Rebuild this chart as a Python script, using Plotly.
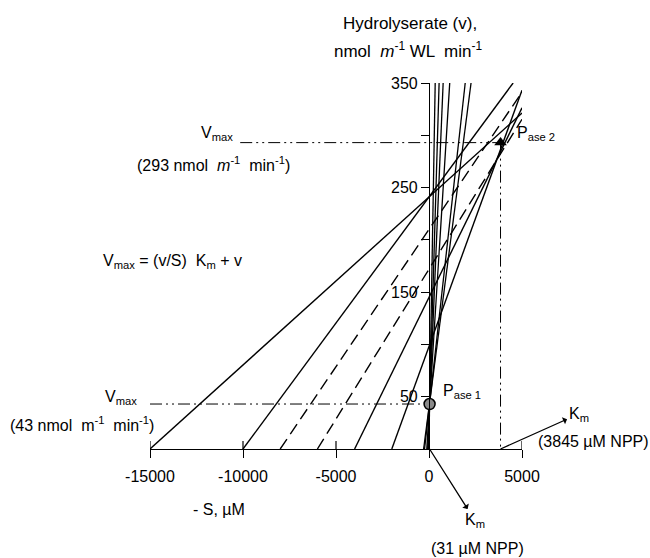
import plotly.graph_objects as go

# Direct linear plot (Eisenthal & Cornish-Bowden): each observation (S, v)
# is drawn as a line through (-S, 0) and (0, v), extended to the frame.

# Phosphatase 2 observations (substrate, µM; rate, nmol m-1 WL min-1)
pase2_S = [15000, 10000, 8000, 6000, 4000, 2000]
pase2_v = [241, 241, 210, 172, 145, 98]
pase2_dash = ["solid", "solid", "dash", "dash", "solid", "solid"]

# Phosphatase 1 observations
pase1_S = [10, 40, 70, 120, 240, 290]
pase1_v = [10.2, 24, 29.5, 34, 38.4, 39.8]

# Kinetic constants from the median intersections
pase1_Km, pase1_Vmax = 31, 43
pase2_Km, pase2_Vmax = 3845, 293

x_ticks = [-15000, -10000, -5000, 0, 5000]
y_ticks = [50, 100, 150, 200, 250, 300, 350]
y_ticklabels = ["50", "", "150", "", "250", "", "350"]

X_MIN, X_MAX = -15000, 5000
Y_MIN, Y_MAX = 0, 350

FONT = "Liberation Sans, Arial, sans-serif"
DASHDOT = "12px,4px,2px,4px,2px,4px"


def line_end(S, v):
    """Point where the line through (-S, 0) and (0, v) leaves the frame."""
    slope = v / S
    x_top = (Y_MAX - 0) / slope - S
    if x_top <= X_MAX:
        return x_top, Y_MAX
    return X_MAX, v + slope * X_MAX


def paper(x, y):
    """Data-space position expressed in paper units (may lie outside the frame)."""
    return (x - X_MIN) / (X_MAX - X_MIN), (y - Y_MIN) / (Y_MAX - Y_MIN)


fig = go.Figure()

for S, v, dash in zip(pase2_S, pase2_v, pase2_dash):
    xe, ye = line_end(S, v)
    fig.add_trace(go.Scatter(
        x=[-S, xe], y=[0, ye], mode="lines",
        line=dict(color="black", width=1.4,
                  dash="12px,6px" if dash == "dash" else "solid"),
        hoverinfo="skip"))

for S, v in zip(pase1_S, pase1_v):
    xe, ye = line_end(S, v)
    fig.add_trace(go.Scatter(
        x=[-S, xe], y=[0, ye], mode="lines",
        line=dict(color="black", width=1.3), hoverinfo="skip"))

# Vmax / Km guide lines (dash-dot)
vmax2_label_x = -10150
fig.add_trace(go.Scatter(x=[vmax2_label_x, pase2_Km], y=[pase2_Vmax, pase2_Vmax],
                         mode="lines", line=dict(color="black", width=1, dash=DASHDOT),
                         hoverinfo="skip"))
fig.add_trace(go.Scatter(x=[pase2_Km, pase2_Km], y=[pase2_Vmax, 0],
                         mode="lines", line=dict(color="black", width=1, dash=DASHDOT),
                         hoverinfo="skip"))
fig.add_trace(go.Scatter(x=[X_MIN, pase1_Km], y=[pase1_Vmax, pase1_Vmax],
                         mode="lines", line=dict(color="black", width=1, dash=DASHDOT),
                         hoverinfo="skip"))

# Intersection markers
fig.add_trace(go.Scatter(x=[pase2_Km], y=[pase2_Vmax], mode="markers",
                         marker=dict(symbol="triangle-up", size=11, color="black"),
                         hoverinfo="skip"))
fig.add_trace(go.Scatter(x=[pase1_Km], y=[pase1_Vmax], mode="markers",
                         marker=dict(symbol="circle", size=11, color="#8a8a8a",
                                     line=dict(color="black", width=1.5)),
                         hoverinfo="skip"))

# x tick marks cross the axis: upper halves as pixel-sized shapes
shapes = []
for xt in x_ticks:
    shapes.append(dict(type="line", xref="x", yref="y", ysizemode="pixel",
                       yanchor=0, x0=xt, x1=xt, y0=0, y1=8,
                       line=dict(color="black", width=1.2)))

ann_font = dict(family=FONT, size=16, color="black")
title_font = dict(family=FONT, size=17, color="black")

# free-standing labels, positioned in data space and converted to paper units
labels = [
    (-1000, 407, "Hydrolyserate (v),", "center", title_font),
    (-1150, 382, "nmol  <i>m</i><sup>-1</sup> WL  min<sup>-1</sup>", "center", title_font),
    (-10450, 302, "V<sub>max</sub>", "right", ann_font),
    (-11600, 273, "(293 nmol  <i>m</i><sup>-1</sup>  min<sup>-1</sup>)", "center", ann_font),
    (-13800, 179, "V<sub>max</sub> = (v/S)  K<sub>m</sub> + v", "center", ann_font),
    (-15600, 49, "V<sub>max</sub>", "right", ann_font),
    (-18650, 24, "(43 nmol  m<sup>-1</sup>  min<sup>-1</sup>)", "center", ann_font),
    (650, 55, "P<sub>ase 1</sub>", "left", ann_font),
    (4600, 302, "P<sub>ase 2</sub>", "left", ann_font),
    (8870, 7, "(3845 µM NPP)", "center", ann_font),
    (-11300, -58, "- S, µM", "center", ann_font),
    (2630, -95, "(31 µM NPP)", "center", ann_font),
]
annotations = []
for x, y, text, xanchor, font in labels:
    px, py = paper(x, y)
    annotations.append(dict(x=px, y=py, xref="paper", yref="paper", text=text,
                            xanchor=xanchor, yanchor="middle", showarrow=False,
                            font=font))

# Km arrows from the x-axis intercepts to their labels
for km, ax, ay in [(pase2_Km, 78, -35), (pase1_Km, 45, 71)]:
    annotations.append(dict(x=km, y=0, xref="x", yref="y", text="K<sub>m</sub>",
                            showarrow=True, arrowside="start", arrowhead=2,
                            arrowsize=1.1, arrowwidth=1.3, arrowcolor="black",
                            ax=ax, ay=ay, font=ann_font))

fig.update_layout(
    width=650, height=558,
    margin=dict(l=150, r=128, t=83, b=109),
    plot_bgcolor="white", paper_bgcolor="white",
    showlegend=False,
    font=dict(family=FONT, size=16, color="black"),
    shapes=shapes,
    annotations=annotations,
    xaxis=dict(range=[X_MIN, X_MAX], tickvals=x_ticks,
               ticktext=[str(t) for t in x_ticks],
               showgrid=False, zeroline=False, showline=True,
               linecolor="black", linewidth=1.2,
               ticks="outside", ticklen=8, tickwidth=1.2, tickcolor="black",
               ticklabelstandoff=5,
               tickfont=dict(family=FONT, size=16)),
    yaxis=dict(range=[Y_MIN, Y_MAX], tickvals=y_ticks, ticktext=y_ticklabels,
               anchor="free", position=(0 - X_MIN) / (X_MAX - X_MIN),
               showgrid=False, zeroline=False, showline=True,
               linecolor="black", linewidth=1.2,
               ticks="outside", ticklen=8, tickwidth=1.2, tickcolor="black",
               tickfont=dict(family=FONT, size=16)),
)

fig.write_html("out.html")
